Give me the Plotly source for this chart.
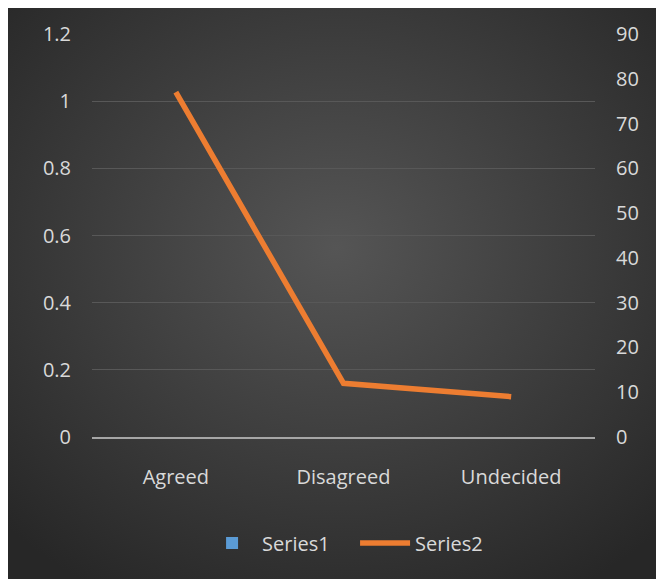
import base64
import plotly.graph_objects as go

categories = ['Agreed', 'Disagreed', 'Undecided']
series1 = [0, 0, 0]
series2 = [77, 12, 9]

# page has an 8px body margin, so the figure sits at (8, 8)
W, H = 656, 571
L, R, T, B = 84, 69, 26, 142

# radial gradient background (Excel dark style) as svg image
svg = f'''<svg xmlns="http://www.w3.org/2000/svg" width="{W}" height="{H}">
<defs><radialGradient id="g" cx="50%" cy="42%" r="70%">
<stop offset="0%" stop-color="#555555"/>
<stop offset="100%" stop-color="#272727"/>
</radialGradient></defs>
<rect width="100%" height="100%" fill="url(#g)"/></svg>'''
src = 'data:image/svg+xml;base64,' + base64.b64encode(svg.encode()).decode()

pw, ph = W - L - R, H - T - B

font = dict(family='Open Sans, Noto Sans, sans-serif', size=20, color='#d9d9d9')

fig = go.Figure()
fig.add_trace(go.Bar(x=categories, y=series1, name='Series1',
                     marker=dict(color='#5B9BD5', line=dict(width=0))))
fig.add_trace(go.Scatter(x=categories, y=series2, name='Series2', yaxis='y2',
                         mode='lines', line=dict(color='#ED7D31', width=5.5)))

fig.update_layout(
    width=W, height=H,
    margin=dict(l=L, r=R, t=T, b=B),
    paper_bgcolor='#2e2e2e',
    plot_bgcolor='rgba(0,0,0,0)',
    font=font,
    images=[dict(source=src, xref='paper', yref='paper',
                 x=-L / pw, y=(H - B) / ph,
                 sizex=W / pw, sizey=H / ph,
                 xanchor='left', yanchor='top', sizing='stretch', layer='below')],
    xaxis=dict(showgrid=False, zeroline=False, showline=True,
               linecolor='#a6a6a6', linewidth=2,
               ticks='', ticklabelstandoff=21, tickfont=font),
    yaxis=dict(range=[0, 1.2], dtick=0.2, showgrid=True, gridcolor='#585858',
               gridwidth=1, zeroline=False,
               showline=False, ticks='', ticklabelstandoff=20, tickfont=font),
    yaxis2=dict(range=[0, 90], dtick=10, overlaying='y', side='right',
                showgrid=False, zeroline=False, showline=False, ticks='',
                ticklabelstandoff=20, tickfont=font),
    showlegend=True,
    legend=dict(orientation='h', x=0.523, xanchor='center',
                y=(H - B - 535) / ph, yanchor='middle', itemwidth=50,
                entrywidth=88, entrywidthmode='pixels',
                font=font, bgcolor='rgba(0,0,0,0)'),
)

fig.write_html("out.html")
